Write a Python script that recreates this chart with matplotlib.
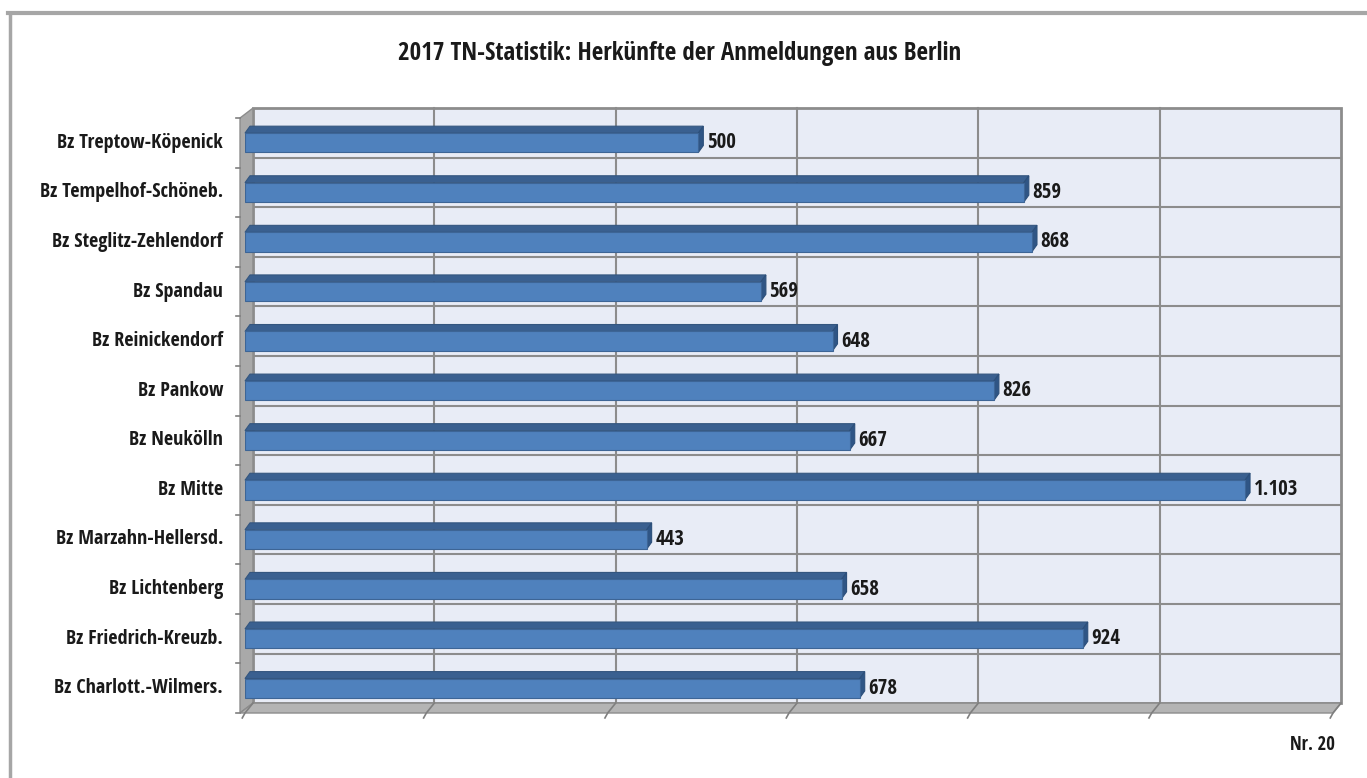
import matplotlib
matplotlib.use("Agg")
import matplotlib.pyplot as plt
from matplotlib.patches import Polygon, Rectangle
from matplotlib.lines import Line2D

districts = ['Bz Treptow-Köpenick', 'Bz Tempelhof-Schöneb.', 'Bz Steglitz-Zehlendorf',
             'Bz Spandau', 'Bz Reinickendorf', 'Bz Pankow', 'Bz Neukölln', 'Bz Mitte',
             'Bz Marzahn-Hellersd.', 'Bz Lichtenberg', 'Bz Friedrich-Kreuzb.',
             'Bz Charlott.-Wilmers.']
anmeldungen = [500, 859, 868, 569, 648, 826, 667, 1103, 443, 658, 924, 678]
grid_ticks = [0, 200, 400, 600, 800, 1000, 1200]

plt.rcParams['font.family'] = ['Open Sans Condensed', 'DejaVu Sans']

fig = plt.figure(figsize=(13.67, 7.78), dpi=100)
ax = fig.add_axes([245/1367, 65/778, 1088/1367, 595/778])
n = len(districts)
xmax = grid_ticks[-1]
ax.set_xlim(0, xmax)
ax.set_ylim(-0.5, n - 0.5)
ax.axis('off')

# depth of the walls and of the bars (data units)
wdx, wdy = 8.8, 0.2
bdx, bdy = 5.5, 0.14
bh = 0.39
wall_edge = '#8c8c8c'

# back wall with grid
ax.add_patch(Rectangle((wdx, -0.5 + wdy), xmax, n, facecolor='#e8ecf6',
                       edgecolor=wall_edge, lw=2, clip_on=False, zorder=1))
for g in grid_ticks[1:-1]:
    ax.plot([g + wdx, g + wdx], [-0.5 + wdy, n - 0.5 + wdy], color=wall_edge,
            lw=1.5, clip_on=False, zorder=1.5)
for k in range(n - 1):
    ax.plot([wdx, xmax + wdx], [k + 0.5 + wdy] * 2, color=wall_edge, lw=1.5,
            clip_on=False, zorder=1.5)

# side wall and floor
ax.add_patch(Polygon([(-5.5, -0.5), (-5.5, n - 0.5), (wdx, n - 0.5 + wdy), (wdx, -0.5 + wdy)],
                     closed=True, facecolor='#a9a9a9', edgecolor=wall_edge, lw=1,
                     clip_on=False, zorder=2))
ax.add_patch(Polygon([(-5.5, -0.5), (xmax, -0.5), (xmax + wdx, -0.5 + wdy), (wdx, -0.5 + wdy)],
                     closed=True, facecolor='#b4b4b4', edgecolor=wall_edge, lw=1,
                     clip_on=False, zorder=2))
for g in grid_ticks:
    ax.plot([g + wdx, g, g - 3], [-0.5 + wdy, -0.5, -0.6], color='#7f7f7f', lw=1.2,
            clip_on=False, zorder=2.5)
for k in range(n + 1):
    ax.plot([-5.5, -10], [k - 0.5, k - 0.5], color='#7f7f7f', lw=1.2, clip_on=False, zorder=2.5)

# 3d bars
ys = [n - 1 - i for i in range(n)]
ax.barh(ys, anmeldungen, height=bh, left=0, color='#4f81bd', edgecolor='#3d6596',
        lw=0.8, zorder=4)
for y, v in zip(ys, anmeldungen):
    top, bot = y + bh / 2, y - bh / 2
    ax.add_patch(Polygon([(0, top), (v, top), (v + bdx, top + bdy), (bdx, top + bdy)],
                         closed=True, facecolor='#3a6090', edgecolor='#34567f', lw=0.8,
                         zorder=3.5, clip_on=False))
    ax.add_patch(Polygon([(v, bot), (v, top), (v + bdx, top + bdy), (v + bdx, bot + bdy)],
                         closed=True, facecolor='#2f5585', edgecolor='#2c4f7a', lw=0.8,
                         zorder=3.5, clip_on=False))
    ax.text(v + bdx + 4, y, f'{v:,}'.replace(',', '.'), ha='left', va='center',
            fontsize=15, fontweight='bold', color='#1a1a1a', zorder=5)

for y, name in zip(ys, districts):
    ax.text(-24, y, name, ha='right', va='center', fontsize=14.5, fontweight='bold',
            color='#1a1a1a', clip_on=False)

fig.text(680/1367, 1 - 53/778, '2017 TN-Statistik: Herkünfte der Anmeldungen aus Berlin',
         ha='center', va='center', fontsize=18, fontweight='bold', color='#1a1a1a')
fig.text(1335/1367, 1 - 745/778, 'Nr. 20', ha='right', va='center', fontsize=13.5,
         fontweight='bold', color='#1a1a1a')

# outer frame (top and left edges)
fig.add_artist(Line2D([8/1367, 1], [1 - 13/778] * 2, transform=fig.transFigure,
                      color='#a6a6a6', lw=3))
fig.add_artist(Line2D([10/1367, 10/1367], [0, 1 - 13/778], transform=fig.transFigure,
                      color='#a6a6a6', lw=2.5))

fig.savefig('out.png', dpi=100)
